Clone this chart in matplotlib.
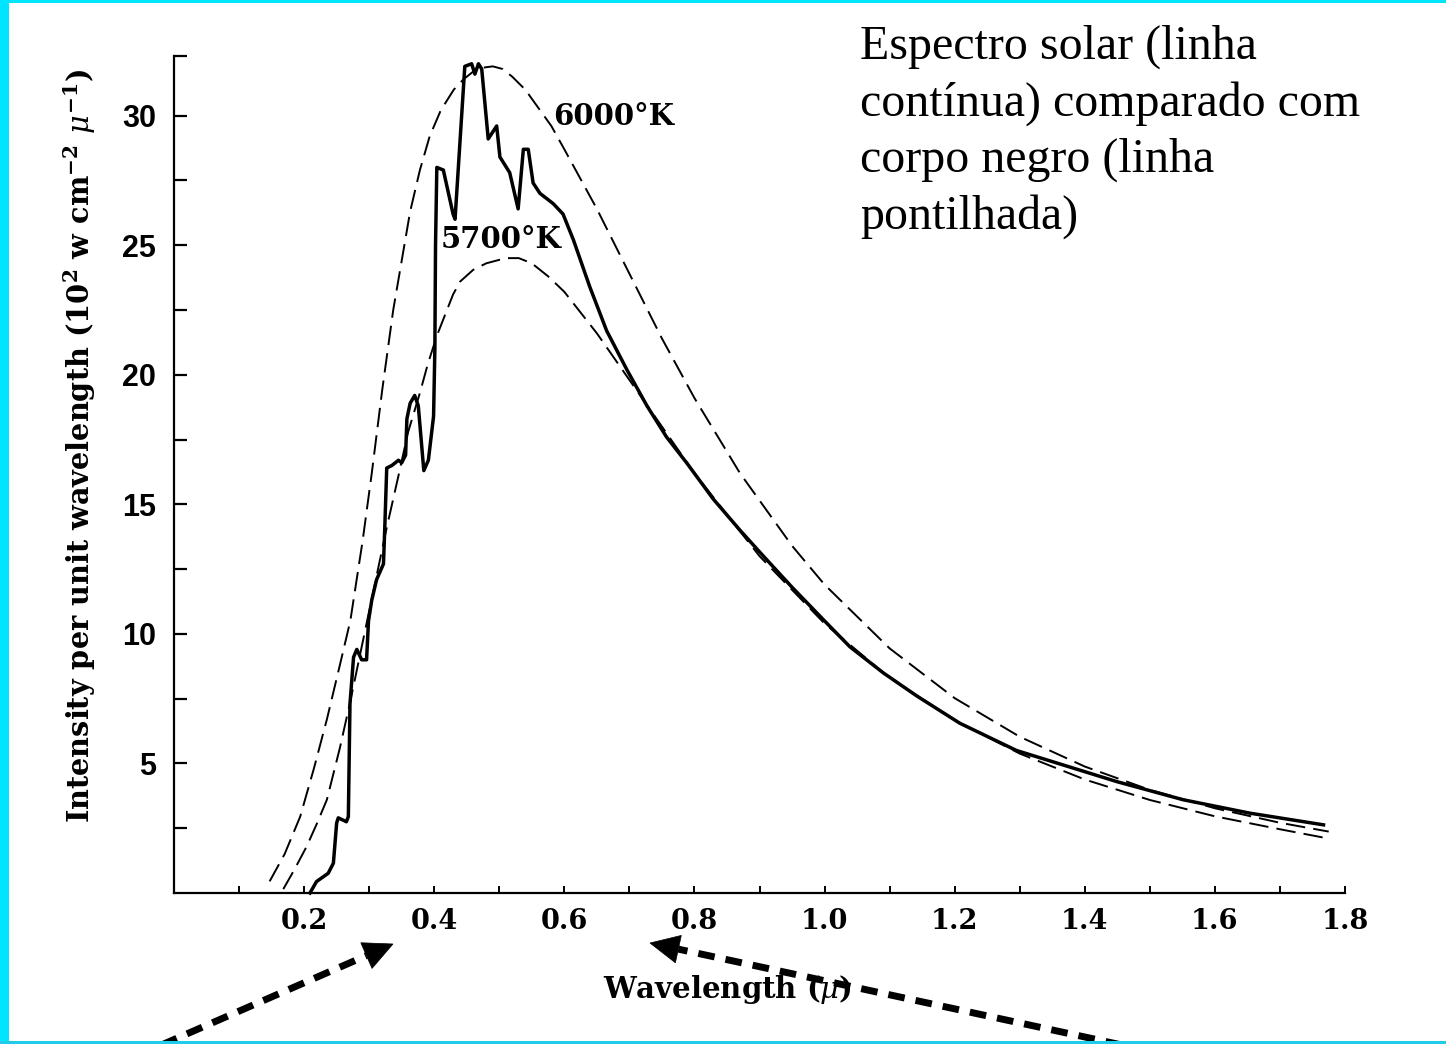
import matplotlib
matplotlib.use("Agg")
import matplotlib.pyplot as plt
from matplotlib.lines import Line2D
from matplotlib.patches import Polygon, Rectangle
import numpy as np

# ---------------- data ----------------
solar_wl = [0.209, 0.219, 0.237, 0.245, 0.250, 0.2525, 0.265, 0.268, 0.2705, 0.276,
            0.281, 0.2885, 0.296, 0.299, 0.304, 0.3115, 0.322, 0.324, 0.327, 0.335,
            0.345, 0.350, 0.356, 0.358, 0.363, 0.370, 0.3755, 0.384, 0.391, 0.399,
            0.401, 0.402, 0.404, 0.414, 0.429, 0.432, 0.447, 0.4575, 0.4625, 0.468,
            0.473, 0.483, 0.496, 0.501, 0.516, 0.529, 0.537, 0.5445, 0.552, 0.5625,
            0.583, 0.598, 0.614, 0.639, 0.665, 0.696, 0.727, 0.757, 0.788, 0.829,
            0.870, 0.906, 0.950, 1.000, 1.039, 1.090, 1.142, 1.208, 1.295, 1.372,
            1.449, 1.551, 1.654, 1.767]
solar_val = [0.0, 0.44, 0.76, 1.15, 2.7, 2.9, 2.75, 2.95, 7.3, 9.1,
             9.4, 9.0, 9.0, 10.5, 11.3, 12.1, 12.7, 14.1, 16.4, 16.5,
             16.7, 16.6, 16.9, 18.3, 18.9, 19.2, 18.8, 16.3, 16.7, 18.4,
             21.0, 25.0, 28.0, 27.9, 26.2, 26.0, 31.9, 32.0, 31.6, 32.0,
             31.8, 29.1, 29.6, 28.4, 27.8, 26.4, 28.7, 28.7, 27.4, 27.0,
             26.6, 26.2, 25.2, 23.4, 21.7, 20.2, 18.8, 17.6, 16.6, 15.2,
             14.0, 13.0, 11.8, 10.5, 9.5, 8.5, 7.6, 6.55, 5.5, 4.9,
             4.3, 3.6, 3.08, 2.63]

bb6000_wl = [0.147, 0.17, 0.194, 0.215, 0.235, 0.255, 0.271, 0.29, 0.304, 0.32,
             0.337, 0.35, 0.363, 0.378, 0.393, 0.41, 0.43, 0.445, 0.46, 0.475,
             0.49, 0.505, 0.52, 0.54, 0.56, 0.58, 0.6, 0.65, 0.7, 0.75,
             0.8, 0.87, 0.95, 1.0, 1.1, 1.2, 1.3, 1.4, 1.5, 1.6,
             1.7, 1.775]
bb6000_val = [0.45, 1.5, 2.95, 4.8, 6.7, 8.8, 10.5, 13.6, 16.2, 19.4,
              22.5, 24.4, 26.3, 27.9, 29.2, 30.2, 31.0, 31.4, 31.7, 31.85,
              31.9, 31.8, 31.5, 31.0, 30.3, 29.6, 28.7, 26.4, 23.9, 21.4,
              19.1, 16.2, 13.4, 11.9, 9.44, 7.52, 6.03, 4.88, 3.98, 3.27,
              2.71, 2.37]

bb5700_wl = [0.168, 0.185, 0.204, 0.22, 0.235, 0.255, 0.271, 0.296, 0.327, 0.345,
             0.36, 0.378, 0.39, 0.404, 0.429, 0.44, 0.46, 0.48, 0.51, 0.53,
             0.55, 0.575, 0.6, 0.65, 0.7, 0.75, 0.8, 0.9, 1.0, 1.1,
             1.2, 1.3, 1.4, 1.5, 1.6, 1.7, 1.775]
bb5700_val = [0.15, 0.9, 1.8, 2.7, 3.6, 5.6, 7.4, 10.4, 14.1, 16.1,
              17.8, 19.3, 20.4, 21.5, 23.1, 23.6, 24.05, 24.3, 24.5, 24.5,
              24.3, 23.8, 23.2, 21.6, 19.8, 18.0, 16.2, 13.0, 10.4, 8.3,
              6.67, 5.38, 4.38, 3.59, 2.96, 2.46, 2.1]

x_ticks = [0.1, 0.2, 0.3, 0.4, 0.5, 0.6, 0.7, 0.8, 0.9, 1.0,
           1.1, 1.2, 1.3, 1.4, 1.5, 1.6, 1.7, 1.8]
x_ticklabels = ['', '0.2', '', '0.4', '', '0.6', '', '0.8', '', '1.0',
                '', '1.2', '', '1.4', '', '1.6', '', '1.8']
y_ticks = [2.5, 5, 7.5, 10, 12.5, 15, 17.5, 20, 22.5, 25, 27.5, 30, 32.3]
y_ticklabels = ['', '5', '', '10', '', '15', '', '20', '', '25', '', '30', '']

label_6000 = "6000°K"
label_5700 = "5700°K"
x_label = r"Wavelength ($\mu$)"
y_label = (r"Intensity per unit wavelength (10$^{\mathbf{2}}$ w cm$^{\mathbf{-2}}$ "
           r"$\mu^{\mathbf{-1}}$)")
caption = "Espectro solar (linha\ncontínua) comparado com\ncorpo negro (linha\npontilhada)"

# ---------------- figure ----------------
plt.rcParams['mathtext.fontset'] = 'dejavuserif'
W, H = 1446, 1044
fig = plt.figure(figsize=(W / 100, H / 100), dpi=100)
fig.patch.set_facecolor('white')

def fx(px):
    return px / W

def fy(py):
    return 1 - py / H

ax = fig.add_axes([fx(174), fy(893), (1345 - 174) / W, (893 - 56) / H])
ax.set_xlim(0, 1.8)
ax.set_ylim(0, 32.3)
ax.set_facecolor('none')

dash = (0, (10.0, 4.2))
ax.plot(bb6000_wl, bb6000_val, color='black', lw=1.4, linestyle=dash, clip_on=False)
ax.plot(bb5700_wl, bb5700_val, color='black', lw=1.4, linestyle=dash, clip_on=False)
ax.plot(solar_wl, solar_val, color='black', lw=2.5, solid_joinstyle='round', clip_on=False)

for s in ['top', 'right']:
    ax.spines[s].set_visible(False)
for s in ['left', 'bottom']:
    ax.spines[s].set_linewidth(1.6)

ax.set_xticks(x_ticks)
ax.set_xticklabels(x_ticklabels, fontfamily='DejaVu Serif', fontweight='bold', fontsize=19.5)
ax.set_yticks(y_ticks)
ax.set_yticklabels(y_ticklabels, fontfamily='Liberation Sans', fontweight='bold', fontsize=22)
ax.tick_params(axis='x', direction='in', length=5, width=1.4, pad=11)
ax.tick_params(axis='y', direction='in', length=9, width=1.6, pad=13)

ax.text(0.583, 29.96, label_6000, fontfamily='DejaVu Serif', fontweight='bold',
        fontsize=21, ha='left', va='center')
ax.text(0.41, 25.2, label_5700, fontfamily='DejaVu Serif', fontweight='bold',
        fontsize=21, ha='left', va='center')

fig.text(fx(80), fy(446), y_label, rotation=90, ha='center', va='center',
         fontfamily='DejaVu Serif', fontweight='bold', fontsize=20.7)
fig.text(fx(727), fy(990), x_label, ha='center', va='center',
         fontfamily='DejaVu Serif', fontweight='bold', fontsize=21)

fig.text(fx(860), fy(25), caption, ha='left', va='top', fontfamily='Liberation Serif',
         fontsize=34.5, linespacing=1.34)

# ---------------- dashed annotation arrows ----------------
def dashed_arrow(tail, tip, head_len=29, head_half=14):
    tx, ty = tail
    hx, hy = tip
    d = np.array([hx - tx, hy - ty], dtype=float)
    d /= np.hypot(*d)
    n = np.array([-d[1], d[0]])
    base = np.array([hx, hy]) - head_len * d
    fig.add_artist(Line2D([fx(tx), fx(base[0])], [fy(ty), fy(base[1])],
                          transform=fig.transFigure, color='black', lw=5,
                          linestyle=(0, (2.4, 1.6)), solid_capstyle='butt',
                          dash_capstyle='butt', zorder=5))
    pts = [(hx, hy), tuple(base + head_half * n), tuple(base - head_half * n)]
    fig.add_artist(Polygon([(fx(p[0]), fy(p[1])) for p in pts], closed=True,
                           transform=fig.transFigure, facecolor='black',
                           edgecolor='black', lw=0.5, zorder=5))

dashed_arrow((150, 1050), (393, 944))
dashed_arrow((1145, 1050), (650, 943))

# ---------------- cyan frame (slide border) ----------------
cyan = '#00E5FF'
fig.add_artist(Rectangle((0, 0), fx(9), 1, transform=fig.transFigure,
                         facecolor=cyan, edgecolor='none', zorder=10))
fig.add_artist(Rectangle((0, 1 - 3 / H), 1, 3 / H, transform=fig.transFigure,
                         facecolor=cyan, edgecolor='none', zorder=10))
fig.add_artist(Rectangle((0, 0), 1, 3 / H, transform=fig.transFigure,
                         facecolor='#22CCE8', edgecolor='none', zorder=10))

fig.savefig('out.png', dpi=100, facecolor='white')
